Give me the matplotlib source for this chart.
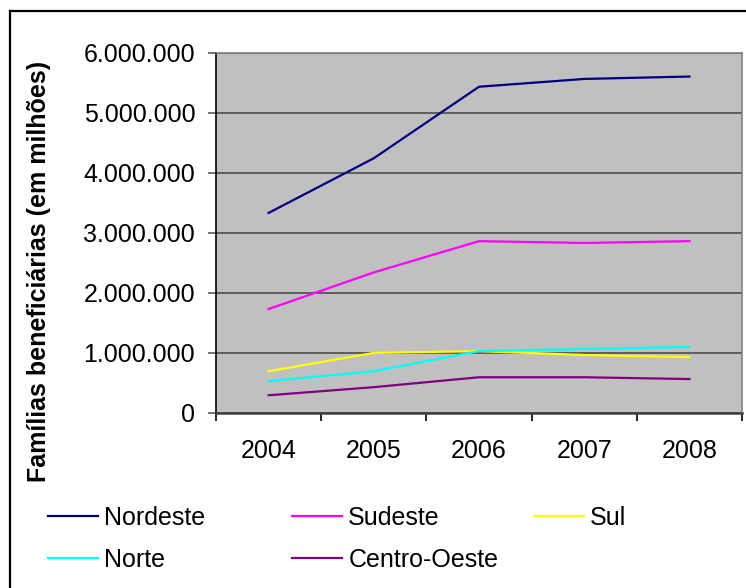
import matplotlib
matplotlib.use('Agg')
import matplotlib.pyplot as plt
from matplotlib.lines import Line2D
from matplotlib.ticker import FuncFormatter, FixedLocator

anos = ['2004', '2005', '2006', '2007', '2008']
nordeste = [3330000, 4240000, 5430000, 5560000, 5600000]
sudeste = [1730000, 2340000, 2860000, 2830000, 2860000]
sul = [695000, 1000000, 1030000, 965000, 930000]
norte = [530000, 695000, 1030000, 1065000, 1100000]
centro_oeste = [295000, 430000, 595000, 595000, 565000]

series = [
    ('Nordeste', nordeste, '#000080'),
    ('Sudeste', sudeste, '#FF00FF'),
    ('Sul', sul, '#FFFF00'),
    ('Norte', norte, '#00FFFF'),
    ('Centro-Oeste', centro_oeste, '#800080'),
]

plt.rcParams['font.family'] = ['Liberation Sans', 'DejaVu Sans']
fs = 18

fig = plt.figure(figsize=(7.46, 5.88), dpi=100)
ax = fig.add_axes([216/746, 1-413/588, (742-216)/746, (413-52.5)/588])
ax.set_facecolor('#C0C0C0')

x = list(range(len(anos)))
handles = []
for name, vals, color in series:
    h, = ax.plot(x, vals, color=color, lw=1.6, label=name)
    handles.append(h)

ax.set_xlim(-0.5, len(anos) - 0.5)
ax.set_ylim(0, 6000000)
ax.set_yticks(range(0, 6000001, 1000000))
ax.yaxis.set_major_formatter(FuncFormatter(lambda v, p: f'{v:,.0f}'.replace(',', '.')))
ax.grid(axis='y', color='#555555', lw=1.3)
ax.set_axisbelow(True)

# Excel-style category axis: ticks between categories, labels centred
ax.xaxis.set_major_locator(FixedLocator([i - 0.5 for i in range(len(anos) + 1)]))
ax.xaxis.set_minor_locator(FixedLocator(x))
ax.set_xticklabels([])
ax.set_xticklabels(anos, minor=True)
ax.tick_params(axis='x', which='major', length=6, width=1.2, color='black', direction='out')
ax.tick_params(axis='x', which='minor', length=0, pad=19, labelsize=fs)
ax.tick_params(axis='y', length=6, width=1.2, color='#5A5A5A', pad=9, labelsize=fs)

for s in ['top', 'right']:
    ax.spines[s].set_color('#808080')
    ax.spines[s].set_linewidth(1.2)
ax.spines['left'].set_color('black')
ax.spines['left'].set_linewidth(1.2)
ax.spines['bottom'].set_color('#404040')
ax.spines['bottom'].set_linewidth(1.8)

ax.set_ylabel('Famílias beneficiárias (em milhões)', fontsize=fs, fontweight='bold')
ax.yaxis.set_label_coords((51-216)/526, (413-271)/360.5)

# legend: two rows, three fixed-width columns like the spreadsheet
col_x = [48, 292, 534]
row_y = [518, 560]
for i, h in enumerate(handles):
    r, c = divmod(i, 3)
    fig.legend([h], [h.get_label()], loc='center left',
               bbox_to_anchor=(col_x[c]/746, 1 - row_y[r]/588),
               frameon=False, fontsize=fs, handlelength=2.0,
               handletextpad=0.25, borderpad=0, borderaxespad=0)

# chart frame (right/bottom edges are cropped off in the original)
fig.add_artist(Line2D([10/746, 10/746], [0, 1 - 11/588], color='black', lw=1.6))
fig.add_artist(Line2D([10/746, 1], [1 - 11/588, 1 - 11/588], color='black', lw=1.6))

fig.savefig('out.png', dpi=100)
